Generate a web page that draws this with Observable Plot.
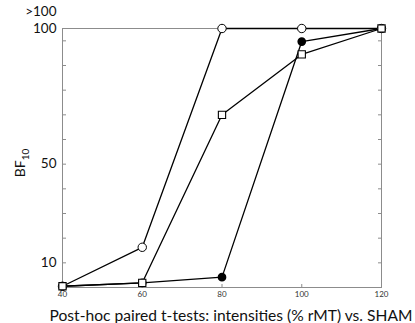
<!DOCTYPE html>
<html><head><meta charset="utf-8">
<script src="https://cdn.jsdelivr.net/npm/d3@7"></script>
<script src="https://cdn.jsdelivr.net/npm/@observablehq/plot@0.6"></script>
<style>body{margin:0;background:#fff;} #chart svg{display:block;}</style>
</head><body><div id="chart"></div>
<script>
// Data (">100" values drawn at the top edge, 105)
const intensities = [40, 60, 80, 100, 120];
const openCircleBF = [0.5, 16.3, 105, 105, 105];
const openSquareBF = [0.5, 1.9, 70, 94.5, 105];
const filledCircleBF = [0.5, 1.9, 4.2, 99.7, 105];

const yTickValues = [10, 20, 30, 40, 50, 60, 70, 80, 90, 100];
const yLabelValues = [10, 50, 105];
const yLabelTexts = ["10", "50", "100"];
const capLabel = ">100";
const xTickValues = [40, 60, 80, 100, 120];
const xTitle = "Post-hoc paired t-tests: intensities (% rMT) vs. SHAM";
const yTitleMain = "BF";
const yTitleSub = "10";

const toRows = (vals) => intensities.map((x, i) => ({x, y: vals[i]}));
const openCircle = toRows(openCircleBF);
const openSquare = toRows(openSquareBF);
const filledCircle = toRows(filledCircleBF);

const frameColor = "#8c8c8c";
const lineStyle = {x: "x", y: "y", stroke: "black", strokeWidth: 1.3};

const chart = Plot.plot({
  width: 415,
  height: 323,
  marginLeft: 62,
  marginRight: 34,
  marginTop: 28,
  marginBottom: 36,
  style: {fontFamily: "Lato, 'Open Sans', sans-serif", background: "#fff", color: "#111"},
  x: {domain: [40, 120]},
  y: {domain: [0, 105]},
  marks: [
    Plot.frame({stroke: frameColor, strokeWidth: 1}),
    // inward ticks
    Plot.axisY({anchor: "left", ticks: yTickValues, tickSize: 4, dx: 4, tickFormat: () => "", label: null, stroke: frameColor}),
    Plot.axisY({anchor: "right", ticks: yTickValues, tickSize: 4, dx: -4, tickFormat: () => "", label: null, stroke: frameColor}),
    Plot.axisX({anchor: "bottom", ticks: xTickValues, tickSize: 3, dy: -3, tickFormat: () => "", label: null, stroke: frameColor}),
    // labels
    Plot.axisY({anchor: "left", ticks: yLabelValues, tickSize: 0, tickPadding: 6, fontSize: 13.5, fill: "#111",
      tickFormat: d => yLabelTexts[yLabelValues.indexOf(d)], label: null}),
    Plot.text([capLabel], {x: () => xTickValues[0], y: () => yLabelValues[2], text: d => d, dx: -6, dy: -17,
      textAnchor: "end", fontSize: 13.5, fill: "#111"}),
    Plot.axisX({anchor: "bottom", ticks: xTickValues, tickSize: 0, tickPadding: 4, fontSize: 8, fill: "#333", label: null}),
    Plot.text([xTitle], {frameAnchor: "bottom", text: d => d, dx: 9, dy: 33, lineAnchor: "bottom", fontSize: 15.6, fill: "#111"}),
    // lines
    Plot.line(openCircle, lineStyle),
    Plot.line(openSquare, lineStyle),
    Plot.line(filledCircle, lineStyle),
    // markers
    Plot.dot(filledCircle, {x: "x", y: "y", r: 3.6, fill: "black", stroke: "black"}),
    Plot.dot(openCircle, {x: "x", y: "y", r: 4.2, fill: "white", stroke: "black", strokeWidth: 1}),
    Plot.dot(openSquare, {x: "x", y: "y", symbol: "square", r: 4.1, fill: "white", stroke: "black", strokeWidth: 1.1})
  ]
});

// y-axis title with subscript
const svg = d3.select(chart);
const t = svg.append("text")
  .attr("transform", "translate(25,163) rotate(-90)")
  .attr("text-anchor", "middle")
  .attr("font-size", 14)
  .attr("fill", "#111")
  .attr("font-family", "Lato, 'Open Sans', sans-serif");
t.append("tspan").text(yTitleMain);
t.append("tspan").attr("font-size", 10).attr("dy", 4).text(yTitleSub);

document.getElementById("chart").appendChild(chart);
</script>
</body></html>
